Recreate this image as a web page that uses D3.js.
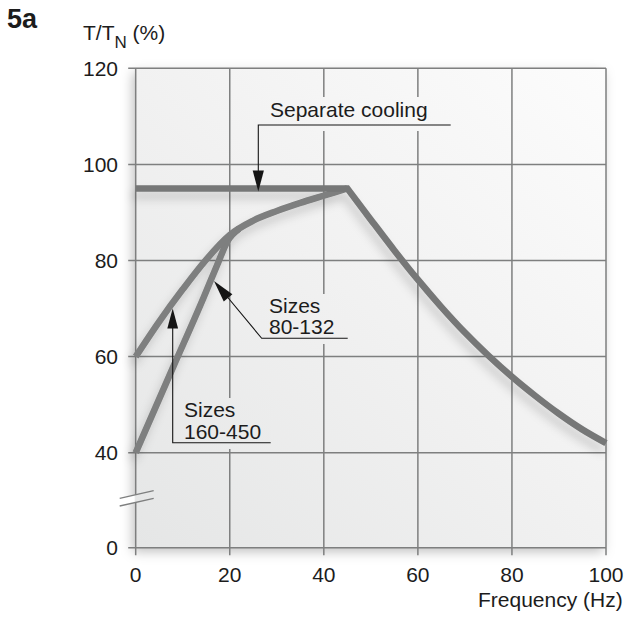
<!DOCTYPE html>
<html><head><meta charset="utf-8">
<script src="https://cdn.jsdelivr.net/npm/d3@7"></script>
<style>
body{margin:0;background:#fff}
svg{display:block}
text{font-family:"Liberation Sans",Arial,Helvetica,sans-serif;fill:#1c1c1c}
</style>
</head><body>
<svg id="c" width="627" height="619"></svg>
<script>
// ---- data ----
const xTicks = [0, 20, 40, 60, 80, 100];
const yTicks = [0, 40, 60, 80, 100, 120];
const separateCoolingFlat = [[0, 95], [45, 95]];
const separateCoolingDrop = [[45, 95], [50, 88.5], [55, 82.1], [60, 76], [65, 70.3], [70, 65], [75, 60.2], [80, 55.8], [85, 51.8], [90, 48.1], [95, 44.8], [100, 42]];
const sizes80_132 = [[0, 60], [5, 67.3], [10, 74], [15, 80.2], [20, 85.3], [25, 88.3], [30, 90.3], [35, 92], [40, 93.5], [45, 95]];
const sizes160_450 = [[0, 40], [8, 57.9], [14.4, 72.2], [17.3, 79], [19.5, 84], [22, 86.6]];
const labels = {sep: "Separate cooling", s1: ["Sizes", "80-132"], s2: ["Sizes", "160-450"]};

const svg = d3.select("#c");
const x = d3.scaleLinear().domain([0, 100]).range([135.7, 606]);
const y = d3.scaleLinear().domain([0, 40, 120]).range([547.7, 452.7, 68.3]);

const defs = svg.append("defs");
const g = defs.append("linearGradient").attr("id", "bg").attr("gradientUnits", "userSpaceOnUse")
  .attr("x1", x(0)).attr("y1", y(0)).attr("x2", x(100)).attr("y2", y(120));
g.append("stop").attr("offset", 0).attr("stop-color", "#e5e6e6");
g.append("stop").attr("offset", 0.5).attr("stop-color", "#f1f1f1");
g.append("stop").attr("offset", 1).attr("stop-color", "#fcfcfc");
const f1 = defs.append("filter").attr("id", "psh").attr("x", "-10%").attr("y", "-10%").attr("width", "120%").attr("height", "120%");
f1.append("feDropShadow").attr("dx", -3).attr("dy", 4).attr("stdDeviation", 6).attr("flood-color", "#000").attr("flood-opacity", 0.25);
const f2 = defs.append("filter").attr("id", "lsh").attr("x", "-20%").attr("y", "-20%").attr("width", "140%").attr("height", "140%");
f2.append("feDropShadow").attr("dx", -3).attr("dy", 7).attr("stdDeviation", 5).attr("flood-color", "#000").attr("flood-opacity", 0.18);

// plot background
svg.append("rect").attr("x", x(0)).attr("y", y(120)).attr("width", x(100) - x(0)).attr("height", y(0) - y(120))
  .attr("fill", "url(#bg)").attr("filter", "url(#psh)");

const gridC = "#7e7f7f", gw = 1.5;
// vertical grid lines + bottom ticks
svg.append("g").selectAll("line").data(xTicks).join("line")
  .attr("x1", d => x(d)).attr("x2", d => x(d)).attr("y1", y(120)).attr("y2", y(0) + 7.5)
  .attr("stroke", gridC).attr("stroke-width", gw);
// horizontal grid lines + left ticks
svg.append("g").selectAll("line").data(yTicks).join("line")
  .attr("x1", x(0) - 7.5).attr("x2", x(100)).attr("y1", d => y(d)).attr("y2", d => y(d))
  .attr("stroke", gridC).attr("stroke-width", gw);

// axis break
const bx0 = x(0) - 16, bx1 = x(0) + 18;
svg.append("polygon").attr("points", `${bx0},498.3 ${bx1},490.7 ${bx1},498.3 ${bx0},506`).attr("fill", "url(#bg)");
svg.append("polygon").attr("points", `${bx0-2},498.3 ${x(0)-1},494.7 ${x(0)-1},502.5 ${bx0-2},506`).attr("fill", "#fff");
[[498.3, 490.7], [506, 498.3]].forEach(([a, b]) => svg.append("line")
  .attr("x1", bx0).attr("y1", a).attr("x2", bx1).attr("y2", b).attr("stroke", gridC).attr("stroke-width", 1.3));

// label mask boxes
[[262, 97, 183, 34], [264, 294, 81, 50], [179, 398, 93, 51]].forEach(([a, b, w, h]) =>
  svg.append("rect").attr("x", a).attr("y", b).attr("width", w).attr("height", h).attr("fill", "url(#bg)"));

// curves
const lc = "#7e7f7f", lw = 6.6;
const lineLin = d3.line().x(d => x(d[0])).y(d => y(d[1]));
const lineMono = d3.line().x(d => x(d[0])).y(d => y(d[1])).curve(d3.curveMonotoneX);
const curves = svg.append("g").attr("filter", "url(#lsh)");
curves.append("path").attr("d", lineMono(sizes160_450)).attr("fill", "none").attr("stroke", lc).attr("stroke-width", lw);
curves.append("path").attr("d", lineMono(sizes80_132)).attr("fill", "none").attr("stroke", lc).attr("stroke-width", lw);
curves.append("path").attr("d", lineLin(separateCoolingFlat) + lineMono(separateCoolingDrop).replace(/^M/, "L"))
  .attr("fill", "none").attr("stroke", "#767777").attr("stroke-width", lw).attr("stroke-linejoin", "miter");

// axis tick labels
const fs = 21;
svg.append("g").selectAll("text").data(yTicks).join("text")
  .attr("x", 118).attr("y", d => y(d) + 7.3).attr("text-anchor", "end").attr("font-size", fs).text(d => d);
svg.append("g").selectAll("text").data(xTicks).join("text")
  .attr("x", d => x(d)).attr("y", 582).attr("text-anchor", "middle").attr("font-size", fs).text(d => d);
svg.append("text").attr("x", 622.7).attr("y", 607).attr("text-anchor", "end").attr("font-size", fs).text("Frequency (Hz)");

// y title
const yt = svg.append("text").attr("x", 83).attr("y", 40).attr("font-size", fs);
yt.append("tspan").text("T/T");
yt.append("tspan").attr("font-size", 17).attr("dy", 8).text("N");
yt.append("tspan").attr("dy", -8).text(" (%)");

// figure number
svg.append("text").attr("x", 7).attr("y", 28).attr("font-family", "'Open Sans',sans-serif").attr("font-weight", "bold")
  .attr("font-size", 27).attr("fill", "#111").text("5a");

// annotations
const ink = "#151515";
function arrowHead(tip, tail, len, half) {
  const dx = tail[0] - tip[0], dy = tail[1] - tip[1], L = Math.hypot(dx, dy);
  const ux = dx / L, uy = dy / L, bx = tip[0] + ux * len, by = tip[1] + uy * len;
  svg.append("polygon").attr("points", `${tip[0]},${tip[1]} ${bx - uy * half},${by + ux * half} ${bx + uy * half},${by - ux * half}`).attr("fill", ink);
}
function leader(pts) {
  svg.append("path").attr("d", d3.line()(pts)).attr("fill", "none").attr("stroke", ink).attr("stroke-width", 1.1);
}
// Separate cooling
svg.append("text").attr("x", 270).attr("y", 117.3).attr("font-size", fs).text(labels.sep);
leader([[450.7, 125], [258.3, 125], [258.3, 175]]);
arrowHead([258.3, 191.5], [258.3, 125], 21, 5.6);
// Sizes 80-132
const t1 = svg.append("text").attr("font-size", fs);
t1.append("tspan").attr("x", 269).attr("y", 312.8).text(labels.s1[0]);
t1.append("tspan").attr("x", 269).attr("y", 334.2).text(labels.s1[1]);
leader([[347.7, 338.3], [261.7, 338.3], [222, 290.5]]);
arrowHead([214, 281], [261.7, 338.3], 22, 5.6);
// Sizes 160-450
const t2 = svg.append("text").attr("font-size", fs);
t2.append("tspan").attr("x", 184).attr("y", 417.3).text(labels.s2[0]);
t2.append("tspan").attr("x", 184).attr("y", 438.5).text(labels.s2[1]);
leader([[270.7, 442.7], [172.7, 442.7], [172.7, 320]]);
arrowHead([172.7, 308.5], [172.7, 442.7], 20, 5.4);
</script>
</body></html>
